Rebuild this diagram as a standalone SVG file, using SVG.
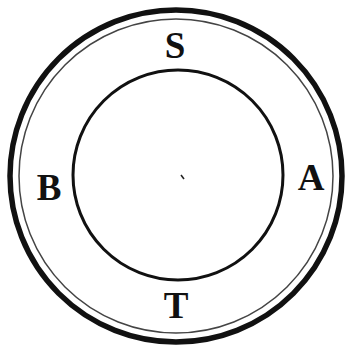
<svg xmlns="http://www.w3.org/2000/svg" width="350" height="350" viewBox="0 0 350 350">
<style>
.lbl{font-family:"Liberation Serif","DejaVu Serif",serif;font-weight:bold;font-size:37px;fill:#111;text-anchor:middle}
</style>
<rect width="350" height="350" fill="#fff"/>
<g id="outer-ring">
<circle cx="176" cy="176" r="166" fill="none" stroke="#111" stroke-width="5.5"/>
<circle cx="176" cy="176" r="157" fill="none" stroke="#444" stroke-width="1.5"/>
</g>
<g id="inner-circle">
<circle cx="178" cy="175" r="105" fill="none" stroke="#111" stroke-width="3"/>
<line x1="181" y1="175" x2="184" y2="179" stroke="#222" stroke-width="1.5"/>
</g>
<g id="labels">
<text class="lbl" x="175" y="58">S</text>
<text class="lbl" x="49" y="200">B</text>
<text class="lbl" x="311" y="190">A</text>
<text class="lbl" x="176" y="318">T</text>
</g>
</svg>
